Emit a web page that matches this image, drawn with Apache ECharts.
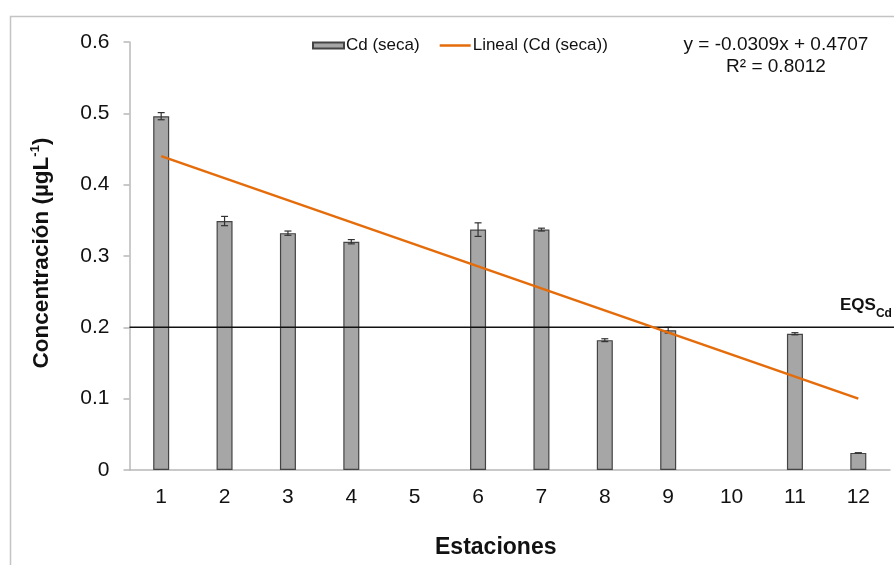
<!DOCTYPE html>
<html><head><meta charset="utf-8">
<script src="https://cdn.jsdelivr.net/npm/echarts@6/dist/echarts.min.js"></script>
<style>html,body{margin:0;padding:0;background:#fff}#c{width:894px;height:565px}</style>
</head><body><div id="c"></div>
<script>
// ---- data ----
const stations = ['1','2','3','4','5','6','7','8','9','10','11','12'];
const cdSeca   = [0.496, 0.349, 0.332, 0.320, null, 0.337, 0.337, 0.182, 0.196, null, 0.191, 0.024];
const cdError  = [0.005, 0.0065, 0.003, 0.003, null, 0.0095, 0.002, 0.002, 0.004, null, 0.0015, 0];
const trendStations = ['1', '12'];
const trendValues   = [0.440, 0.100];
const yMin = 0, yMax = 0.6, yStep = 0.1;
const eqsLimit = 0.2;
const equationLines = ['y = -0.0309x + 0.4707', 'R\u00b2 = 0.8012'];
const seriesNames = ['Cd (seca)', 'Lineal (Cd (seca))'];

const FONT = '"Liberation Sans", Arial, sans-serif';
const ORANGE = '#E46C0A';
const chart = echarts.init(document.getElementById('c'), null, {renderer: 'canvas'});

const errData = stations.map((s, i) => cdSeca[i] == null ? null : [i, cdSeca[i] - cdError[i], cdSeca[i] + cdError[i]]).filter(d => d);

chart.setOption({
  animation: false,
  backgroundColor: '#fff',
  textStyle: {fontFamily: FONT},
  grid: {left: 129.5, right: 4, top: 42, bottom: 95, containLabel: false},
  legend: {
    top: 32, left: 307, itemGap: 20, itemWidth: 31, itemHeight: 6,
    symbolKeepAspect: true,
    textStyle: {fontFamily: FONT, fontSize: 17, color: '#111', padding: [0, 0, 0, -3]},
    data: [
      {name: seriesNames[0], icon: 'rect'},
      {name: seriesNames[1], icon: 'path://M0,0 L31,0 L31,2.5 L0,2.5 Z', itemStyle: {color: ORANGE, borderWidth: 0}}
    ]
  },
  xAxis: {
    type: 'category', data: stations,
    axisLine: {lineStyle: {color: '#b8b8b8', width: 1.5}},
    axisTick: {show: false},
    axisLabel: {fontFamily: FONT, fontSize: 21, color: '#111', margin: 17},
    name: 'Estaciones', nameLocation: 'middle', nameGap: 66,
    nameTextStyle: {fontFamily: FONT, fontSize: 23, fontWeight: 'bold', color: '#111', padding: [0, 28, 0, 0]}
  },
  yAxis: {
    type: 'value', min: yMin, max: yMax, interval: yStep,
    axisLine: {show: true, lineStyle: {color: '#b8b8b8', width: 1.5}},
    axisTick: {show: true, inside: false, length: 6, lineStyle: {color: '#b8b8b8', width: 1.5}},
    splitLine: {show: false},
    axisLabel: {fontFamily: FONT, fontSize: 21, color: '#111', margin: 20}
  },
  series: [
    {
      name: seriesNames[0], type: 'bar', data: cdSeca, barWidth: 16, z: 2,
      itemStyle: {color: '#a6a6a6', borderColor: '#444', borderWidth: 1.2}
    },
    {
      type: 'custom', z: 3, data: errData,
      renderItem: function (params, api) {
        const x = api.value(0);
        const lo = api.coord([x, api.value(1)]);
        const hi = api.coord([x, api.value(2)]);
        const cw = 3.5;
        const st = {stroke: '#333', lineWidth: 1.2};
        return {type: 'group', children: [
          {type: 'line', shape: {x1: lo[0], y1: lo[1], x2: hi[0], y2: hi[1]}, style: st},
          {type: 'line', shape: {x1: lo[0]-cw, y1: lo[1], x2: lo[0]+cw, y2: lo[1]}, style: st},
          {type: 'line', shape: {x1: hi[0]-cw, y1: hi[1], x2: hi[0]+cw, y2: hi[1]}, style: st}
        ]};
      }
    },
    {
      name: seriesNames[1], type: 'line', z: 5, symbol: 'none',
      data: trendStations.map((s, i) => [s, trendValues[i]]),
      lineStyle: {color: ORANGE, width: 2.5}, itemStyle: {color: ORANGE}
    }
  ]
});

// overlays positioned through the chart's own scales
const eqsY = chart.convertToPixel({yAxisIndex: 0}, eqsLimit);
const axisX = chart.convertToPixel({xAxisIndex: 0}, stations[0]) - (chart.convertToPixel({xAxisIndex: 0}, stations[1]) - chart.convertToPixel({xAxisIndex: 0}, stations[0])) / 2;
const y0 = chart.convertToPixel({yAxisIndex: 0}, yMin);
const y6 = chart.convertToPixel({yAxisIndex: 0}, yMax);

chart.setOption({
  graphic: [
    {type: 'rect', silent: true, z: 0, shape: {x: 10.5, y: 16.5, width: 1000, height: 1000},
     style: {fill: 'none', stroke: '#c4c4c4', lineWidth: 1.5}},
    {type: 'line', z: 4, shape: {x1: axisX, y1: eqsY, x2: 894, y2: eqsY},
     style: {stroke: '#111', lineWidth: 1.5}},
    {type: 'text', z: 6, x: 840, y: eqsY - 19,
     style: {text: '{a|EQS}{b|Cd}', fill: '#111',
       rich: {a: {fontFamily: FONT, fontSize: 17, fontWeight: 'bold', fill: '#111', verticalAlign: 'top', lineHeight: 23},
              b: {fontFamily: FONT, fontSize: 12, fontWeight: 'bold', fill: '#111', verticalAlign: 'bottom', lineHeight: 23}},
       verticalAlign: 'middle', align: 'left'}},
    {type: 'text', z: 6, x: 776, y: 45,
     style: {text: equationLines[0], font: '19px ' + FONT, fill: '#111', align: 'center', verticalAlign: 'middle'}},
    {type: 'text', z: 6, x: 776, y: 67,
     style: {text: equationLines[1], font: '19px ' + FONT, fill: '#111', align: 'center', verticalAlign: 'middle'}},
    {type: 'text', z: 6, x: 41, y: (y0 + y6) / 2 - 3, rotation: Math.PI / 2,
     style: {text: '{a|Concentración (µgL}{s|-1}{a|)}', align: 'center', verticalAlign: 'middle',
       rich: {a: {fontFamily: FONT, fontSize: 22.5, fontWeight: 'bold', fill: '#111', verticalAlign: 'bottom', lineHeight: 25},
              s: {fontFamily: FONT, fontSize: 13, fontWeight: 'bold', fill: '#111', verticalAlign: 'top', lineHeight: 25}}}}
  ]
});
</script>
</body></html>
